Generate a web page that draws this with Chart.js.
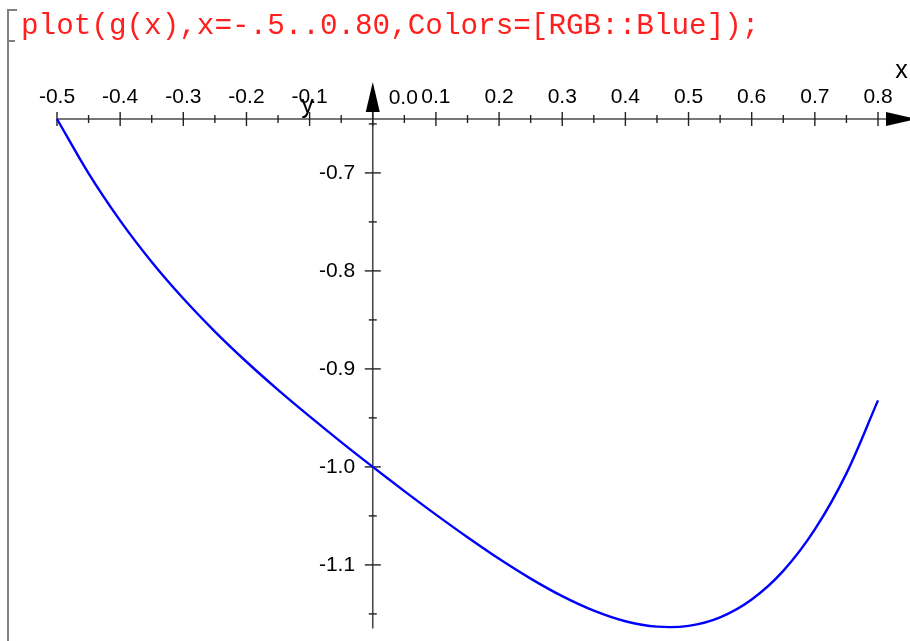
<!DOCTYPE html>
<html>
<head>
<meta charset="utf-8">
<script src="https://cdn.jsdelivr.net/npm/chart.js@4"></script>
<style>
  html, body { margin: 0; padding: 0; background: #fff; }
  #wrap { position: relative; width: 910px; height: 641px; overflow: hidden; }
  #cmd { position: absolute; left: 21px; top: 10px; font-family: "Liberation Mono", "Courier New", monospace;
         font-size: 29.3px; line-height: 34px; color: #ff1f1f; white-space: pre; z-index: 2; }
  .br { position: absolute; background: #808080; }
  canvas { position: absolute; left: 0; top: 0; }
</style>
</head>
<body>
<div id="wrap">
  <div class="br" style="left:7px;top:9px;width:2px;height:632px;"></div>
  <div class="br" style="left:7px;top:9px;width:10px;height:2px;"></div>
  <div class="br" style="left:7px;top:40px;width:8px;height:2px;"></div>
  <div id="cmd">plot(g(x),x=-.5..0.80,Colors=[RGB::Blue]);</div>
  <canvas id="c" width="910" height="641"></canvas>
</div>
<script>
// ---- data ----
const xValues = [-0.5, -0.45, -0.4, -0.35, -0.3, -0.25, -0.2, -0.15, -0.1, -0.05, 0,
                 0.05, 0.1, 0.15, 0.2, 0.25, 0.3, 0.35, 0.4, 0.45, 0.5, 0.55, 0.6, 0.65, 0.7, 0.75, 0.8];
const yValues = [-0.645, -0.7005, -0.7487, -0.7909, -0.8282, -0.8619, -0.8927, -0.9214, -0.9485, -0.9747, -1.0,
                 -1.0247, -1.0487, -1.0718, -1.0938, -1.114, -1.1319, -1.1467, -1.1575, -1.1630, -1.1622,
                 -1.1535, -1.1353, -1.1061, -1.0638, -1.0066, -0.9321];
const xMajorTicks = [-0.5, -0.4, -0.3, -0.2, -0.1, 0, 0.1, 0.2, 0.3, 0.4, 0.5, 0.6, 0.7, 0.8];
const xMinorTicks = [-0.45, -0.35, -0.25, -0.15, -0.05, 0.05, 0.15, 0.25, 0.35, 0.45, 0.55, 0.65, 0.75];
const yMajorTicks = [-0.7, -0.8, -0.9, -1.0, -1.1];
const yMinorTicks = [-0.65, -0.75, -0.85, -0.95, -1.05, -1.15];
const xRange = [-0.5, 0.8];
const yRange = [-1.1648, -0.645];
const xAxisTitle = 'x';
const yAxisTitle = 'y';
const zeroLabel = '0.0';

const AXIS_COLOR = '#4a4a4a';
const LABEL_FONT = '21px "Liberation Sans", Arial, sans-serif';
const TITLE_FONT = '25px "Liberation Sans", Arial, sans-serif';

const axesPlugin = {
  id: 'mupadAxes',
  beforeDatasetsDraw(chart) {
    const ctx = chart.ctx;
    const xs = chart.scales.x, ys = chart.scales.y;
    const x0 = xs.getPixelForValue(0);
    const yAxisY = ys.getPixelForValue(yRange[1]);
    const xl = xs.getPixelForValue(xRange[0]);
    const xr = xs.getPixelForValue(xRange[1]);
    const yb = ys.getPixelForValue(yRange[0]);
    ctx.save();
    ctx.strokeStyle = AXIS_COLOR;
    ctx.fillStyle = '#000';
    ctx.lineWidth = 1.6;
    ctx.beginPath();
    ctx.moveTo(xl, yAxisY); ctx.lineTo(xr + 10, yAxisY); ctx.stroke();
    ctx.beginPath();
    ctx.moveTo(x0, yb); ctx.lineTo(x0, yAxisY - 8); ctx.stroke();
    ctx.lineWidth = 1.4;
    ctx.strokeStyle = '#222';
    const tick = (x1, y1, x2, y2) => { ctx.beginPath(); ctx.moveTo(x1, y1); ctx.lineTo(x2, y2); ctx.stroke(); };
    xMajorTicks.forEach(v => { const p = xs.getPixelForValue(v); tick(p, yAxisY - 7, p, yAxisY + 7); });
    xMinorTicks.forEach(v => { const p = xs.getPixelForValue(v); tick(p, yAxisY - 4, p, yAxisY + 4); });
    yMajorTicks.forEach(v => { const p = ys.getPixelForValue(v); tick(x0 - 8, p, x0 + 8, p); });
    yMinorTicks.forEach(v => { const p = ys.getPixelForValue(v); tick(x0 - 4, p, x0 + 4, p); });
    ctx.fillStyle = '#000';
    ctx.beginPath();
    ctx.moveTo(xr + 8, yAxisY - 7); ctx.lineTo(xr + 38, yAxisY); ctx.lineTo(xr + 8, yAxisY + 7); ctx.closePath(); ctx.fill();
    ctx.beginPath();
    ctx.moveTo(x0 - 7, yAxisY - 7); ctx.lineTo(x0, yAxisY - 37); ctx.lineTo(x0 + 7, yAxisY - 7); ctx.closePath(); ctx.fill();
    ctx.font = LABEL_FONT;
    ctx.textAlign = 'center';
    ctx.textBaseline = 'alphabetic';
    ctx.fillText(zeroLabel, x0 + 30.5, yAxisY - 15);
    ctx.font = TITLE_FONT;
    ctx.fillText(xAxisTitle, 901.5, 78);
    ctx.fillText(yAxisTitle, 307.5, 113);
    ctx.restore();
  }
};

new Chart(document.getElementById('c'), {
  type: 'line',
  data: {
    datasets: [{
      data: xValues.map((x, i) => ({ x, y: yValues[i] })),
      borderColor: '#0000ff',
      borderWidth: 2.4,
      pointRadius: 0,
      fill: false,
      tension: 0.35,
      clip: 8
    }]
  },
  options: {
    responsive: false,
    animation: false,
    devicePixelRatio: 1,
    layout: { padding: { left: 57, right: 32, top: 0, bottom: 11 } },
    plugins: { legend: { display: false }, tooltip: { enabled: false }, title: { display: false } },
    scales: {
      x: {
        type: 'linear',
        position: 'top',
        min: xRange[0], max: xRange[1],
        grid: { display: false, drawTicks: false },
        border: { display: false },
        afterFit: s => { s.height = 119; },
        ticks: {
          stepSize: 0.1,
          autoSkip: false,
          maxRotation: 0,
          padding: 9,
          color: '#000',
          font: { family: '"Liberation Sans", Arial, sans-serif', size: 21 },
          callback: v => (Math.abs(v) < 1e-9 ? '' : v.toFixed(1))
        }
      },
      y: {
        type: 'linear',
        position: { x: -0.028 },
        min: yRange[0], max: yRange[1],
        grid: { display: false, drawTicks: false },
        border: { display: false },
        afterFit: s => { s.width = 0; },
        ticks: {
          stepSize: 0.1,
          includeBounds: false,
          autoSkip: false,
          padding: 0,
          color: '#000',
          font: { family: '"Liberation Sans", Arial, sans-serif', size: 21 },
          callback: v => v.toFixed(1)
        }
      }
    }
  },
  plugins: [axesPlugin]
});
</script>
</body>
</html>
